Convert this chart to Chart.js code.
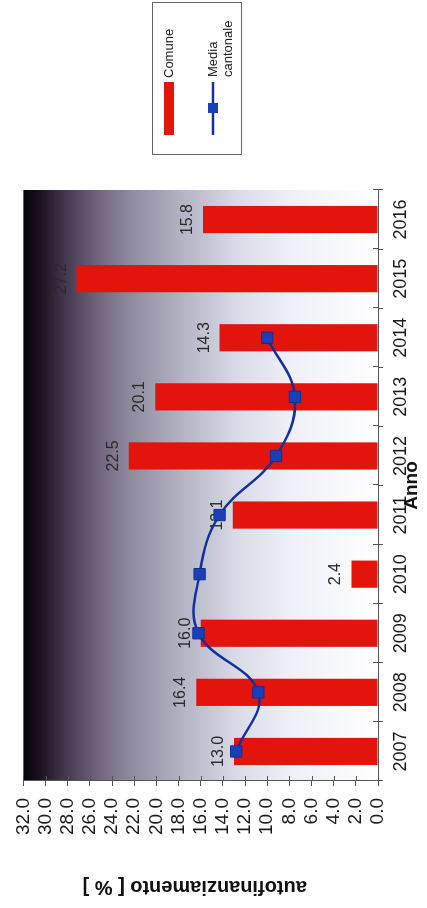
<!DOCTYPE html>
<html><head><meta charset="utf-8">
<script src="https://cdn.jsdelivr.net/npm/chart.js@4/dist/chart.umd.min.js"></script>
<style>
html,body{margin:0;padding:0;background:#fff;overflow:hidden;width:427px;height:908px;}
#wrap{position:absolute;left:0;top:0;width:908px;height:427px;transform-origin:0 0;transform:translate(0,908px) rotate(-90deg);}
</style></head><body>
<div id="wrap"><canvas id="c" width="908" height="427"></canvas></div>
<script>
// ---- data ----
const years = ['2007','2008','2009','2010','2011','2012','2013','2014','2015','2016'];
const comune = [13.0, 16.4, 16.0, 2.4, 13.1, 22.5, 20.1, 14.3, 27.2, 15.8];
const mediaCantonale = [12.8, 10.8, 16.2, 16.1, 14.3, 9.2, 7.5, 10.0, null, null];
const valueMin = 0, valueMax = 32, valueStep = 2;
const seriesNames = ['Comune', ['Media', 'cantonale']];
const xTitle = 'Anno';
const yTitle = 'autofinanziamento [ % ]';

const FONT = "'Liberation Sans', Arial, sans-serif";
const RED = '#e2140c', BLUE = '#14309c', MARK = '#1a40b8';
Chart.defaults.font.family = FONT;

const deco = {
  id: 'deco',
  beforeDraw(chart) {
    const {ctx, chartArea: a} = chart;
    const g = ctx.createLinearGradient(0, a.top, 0, a.bottom);
    g.addColorStop(0, '#040207');
    g.addColorStop(0.05, '#1c1420');
    g.addColorStop(0.10, '#3a2e44');
    g.addColorStop(0.20, '#6b6078');
    g.addColorStop(0.30, '#8e8a9e');
    g.addColorStop(0.45, '#b4b4c4');
    g.addColorStop(0.60, '#d8dae6');
    g.addColorStop(0.75, '#eef0f7');
    g.addColorStop(1, '#ffffff');
    ctx.save();
    ctx.fillStyle = g;
    ctx.fillRect(a.left, a.top, a.right - a.left, a.bottom - a.top);
    ctx.restore();
  },
  afterDatasetDraw(chart, args) {
    if (args.index !== 0) return;
    const {ctx} = chart;
    const meta = chart.getDatasetMeta(0);
    ctx.save();
    ctx.font = '16px ' + FONT;
    ctx.fillStyle = '#2a2a2a';
    ctx.textAlign = 'center';
    ctx.textBaseline = 'alphabetic';
    meta.data.forEach((el, i) => {
      ctx.fillText(comune[i].toFixed(1), el.x, el.y - 11);
    });
    ctx.restore();
  },
  afterDraw(chart) {
    const {ctx, chartArea: a} = chart;
    const ys = chart.scales.y;
    ctx.save();
    // inner ticks
    ctx.strokeStyle = '#555'; ctx.lineWidth = 1;
    ctx.beginPath();
    const n = years.length, w = (a.right - a.left) / n;
    for (let i = 0; i <= n; i++) {
      const x = Math.round(a.left + i * w) + 0.5;
      ctx.moveTo(x, a.bottom - 5); ctx.lineTo(x, a.bottom);
    }
    for (let v = valueMin; v <= valueMax; v += valueStep) {
      const y = Math.round(ys.getPixelForValue(v)) + 0.5;
      ctx.moveTo(a.left, y); ctx.lineTo(a.left + 5, y);
    }
    ctx.stroke();
    // axis titles
    ctx.fillStyle = '#111';
    ctx.font = 'bold 19px ' + FONT;
    ctx.textAlign = 'center'; ctx.textBaseline = 'middle';
    ctx.fillText(xTitle, (a.left + a.right) / 2, 412);
    ctx.save();
    ctx.translate(21, (a.top + a.bottom) / 2 - 6);
    ctx.rotate(-Math.PI / 2);
    ctx.font = 'bold 20px ' + FONT;
    ctx.fillText(yTitle, 0, 0);
    ctx.restore();
    // legend
    ctx.fillStyle = '#fff';
    ctx.fillRect(753, 152, 153, 90);
    ctx.strokeStyle = '#666'; ctx.lineWidth = 1;
    ctx.strokeRect(753.5, 152.5, 152, 89);
    ctx.fillStyle = RED;
    ctx.fillRect(773, 164, 53, 10);
    ctx.strokeStyle = BLUE; ctx.lineWidth = 2.5;
    ctx.beginPath(); ctx.moveTo(773, 213); ctx.lineTo(826, 213); ctx.stroke();
    ctx.fillStyle = MARK;
    ctx.fillRect(795, 208, 10, 10);
    ctx.fillStyle = '#222';
    ctx.font = '13px ' + FONT;
    ctx.textAlign = 'left'; ctx.textBaseline = 'middle';
    ctx.fillText(seriesNames[0], 830, 169);
    ctx.fillText(seriesNames[1][0], 831, 213);
    ctx.fillText(seriesNames[1][1], 831, 228);
    ctx.restore();
  }
};

new Chart(document.getElementById('c'), {
  data: {
    labels: years,
    datasets: [
      { type: 'bar', label: 'Comune', data: comune, backgroundColor: RED,
        borderWidth: 0, categoryPercentage: 1, barPercentage: 0.46, order: 2 },
      { type: 'line', label: 'Media cantonale', data: mediaCantonale,
        borderColor: BLUE, borderWidth: 2.5, tension: 0.4, fill: false,
        pointStyle: 'rect', pointRadius: 8, pointBackgroundColor: MARK,
        pointBorderColor: '#123090', pointBorderWidth: 1, order: 1 }
    ]
  },
  options: {
    responsive: false, animation: false, devicePixelRatio: 1,
    layout: { padding: { top: 20, right: 190, left: 0, bottom: 0 } },
    plugins: { legend: { display: false }, tooltip: { enabled: false } },
    scales: {
      x: {
        offset: true,
        grid: { offset: true, drawOnChartArea: false, tickLength: 5, color: '#555' },
        border: { color: '#555', width: 1 },
        ticks: { color: '#1a1a1a', font: { size: 18 }, padding: 7, maxRotation: 0, autoSkip: false },
        afterFit(s) { s.height = 49; }
      },
      y: {
        min: valueMin, max: valueMax,
        grid: { drawOnChartArea: false, tickLength: 5, color: '#555' },
        border: { color: '#555', width: 1 },
        ticks: { stepSize: valueStep, color: '#1a1a1a', font: { size: 19 }, padding: 12,
          autoSkip: false, callback: v => Number(v).toFixed(1) },
        afterFit(s) { s.width = 127; }
      }
    }
  },
  plugins: [deco]
});
</script>
</body></html>
